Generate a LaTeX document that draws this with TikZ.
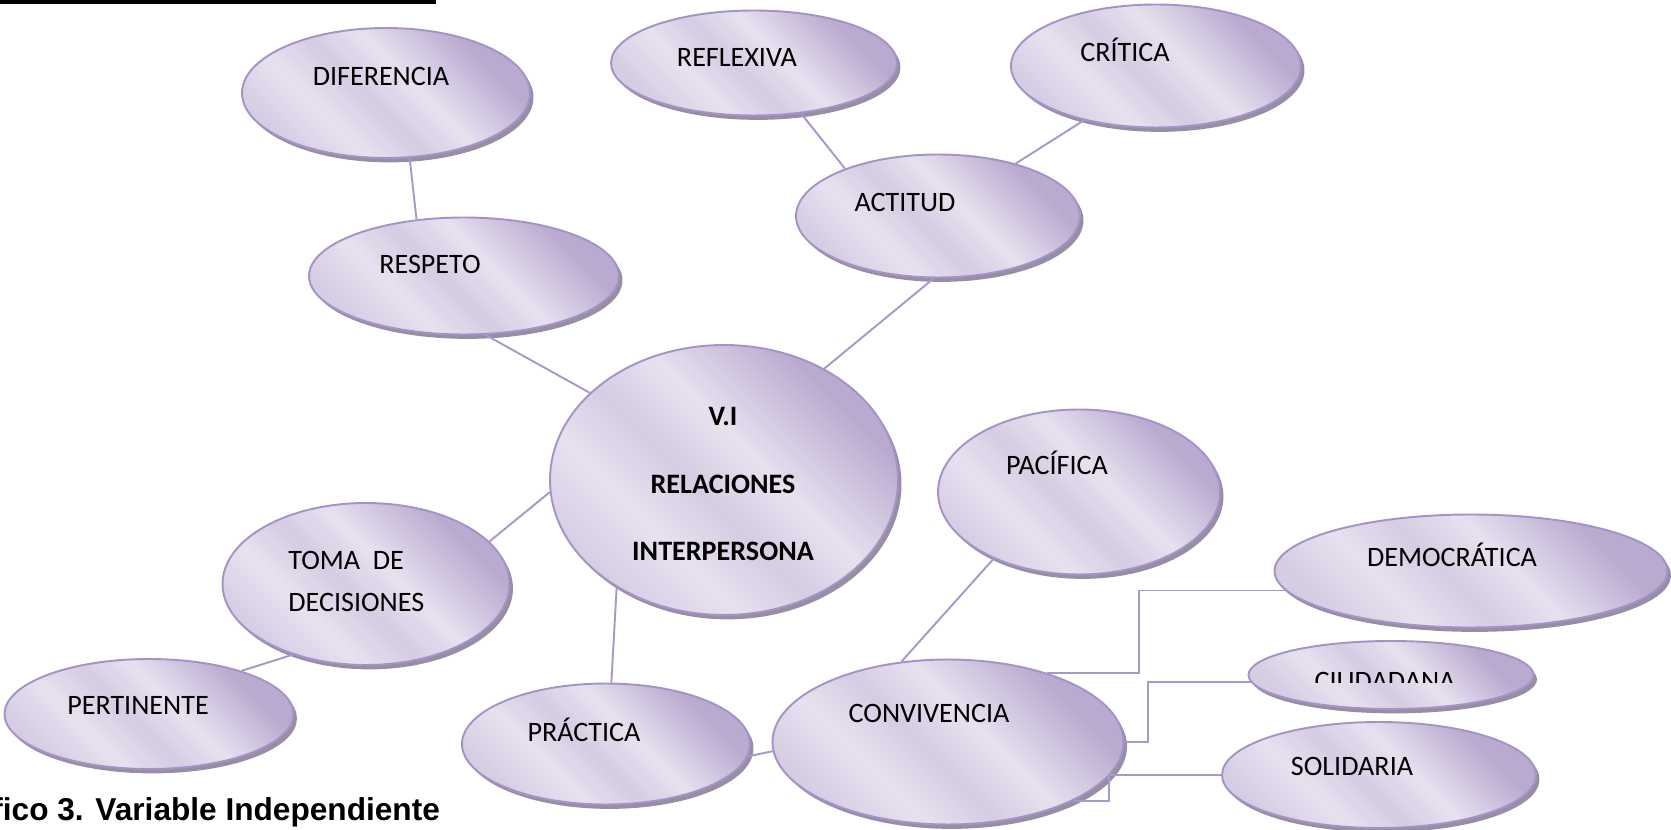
\documentclass[tikz,border=0pt]{standalone}
\usepackage{fontspec}
\setmainfont{Carlito}
\newfontfamily\captionfont{Liberation Sans}
\usetikzlibrary{shapes.geometric, shadows}

\definecolor{bubbleline}{HTML}{A493C7}
\definecolor{bubbledark}{HTML}{BAAAD0}
\definecolor{bubblelight}{HTML}{E7E1EF}
\definecolor{bubblemid}{HTML}{D6CCE3}
\definecolor{bubbleshadow}{HTML}{978EA3}
\definecolor{linkcolor}{HTML}{A898CA}

\pgfdeclarehorizontalshading{bubbleshade}{100bp}{color(0bp)=(bubbledark); color(28bp)=(bubbledark); color(44bp)=(bubblelight); color(54bp)=(bubblemid); color(64bp)=(bubblelight); color(76bp)=(bubblemid); color(100bp)=(bubblemid)}

\begin{document}
\begin{tikzpicture}[x=0.02cm, y=-0.02cm,
    bubble/.style={ellipse, draw=bubbleline, line width=1.1pt, shading=bubbleshade, shading angle=225,
        drop shadow={shadow xshift=2pt, shadow yshift=-2.5pt, fill=bubbleshadow, opacity=1}},
    lbl/.style={font=\fontsize{16pt}{19pt}\selectfont, inner sep=0pt, text height=10.5pt, text depth=0pt},
    lblb/.style={lbl, font=\fontsize{16pt}{19pt}\selectfont\bfseries},
    link/.style={draw=linkcolor, line width=1.1pt}]
    \useasboundingbox (0,0) rectangle (1671,830);

    % rule at the top
    \fill (0,0) rectangle (436,4);

    % upper branch
    \node[bubble, minimum width=5.76cm, minimum height=2.6cm] (dif) at (386,93) {};
    \node[lbl] (diftxt) at (381,76) {DIFERENCIA};
    \node[bubble, minimum width=6.2cm, minimum height=2.34cm] (resp) at (464,276) {};
    \node[lbl] (resptxt) at (430,264) {RESPETO};
    \node[bubble, minimum width=5.72cm, minimum height=2.1cm] (refl) at (754,63) {};
    \node[lbl] (refltxt) at (737,57) {REFLEXIVA};
    \node[bubble, minimum width=5.8cm, minimum height=2.46cm] (cri) at (1156,66) {};
    \node[lbl] (critxt) at (1125,52) {CRÍTICA};
    \node[bubble, minimum width=5.68cm, minimum height=2.46cm] (act) at (938,216) {};
    \node[lbl] (acttxt) at (905,202) {ACTITUD};

    % centre
    \node[bubble, minimum width=6.96cm, minimum height=5.4cm] (vi) at (724,480) {};
    \node[lblb] (vitxt) at (723,416) {V.I};
    \node[lblb] (reltxt) at (723,484) {RELACIONES};
    \node[lblb] (inttxt) at (723,551) {INTERPERSONA};

    % left branch
    \node[bubble, minimum width=5.74cm, minimum height=3.24cm] (toma) at (366,584) {};
    \node[lbl, anchor=west] (tomatxt) at (288,560) {TOMA\ \ DE};
    \node[lbl, anchor=west] (dectxt) at (288,602) {DECISIONES};
    \node[bubble, minimum width=5.78cm, minimum height=2.2cm] (pert) at (149,714) {};
    \node[lbl] (perttxt) at (138,705) {PERTINENTE};
    \node[bubble, minimum width=5.76cm, minimum height=2.42cm] (prac) at (606,744) {};
    \node[lbl] (practxt) at (584,732) {PRÁCTICA};

    % right branch
    \node[bubble, minimum width=5.64cm, minimum height=3.3cm] (pac) at (1079,492) {};
    \node[lbl] (pactxt) at (1057,465) {PACÍFICA};
    \node[bubble, minimum width=7.02cm, minimum height=3.3cm] (conv) at (948,742) {};
    \node[lbl] (convtxt) at (929,713) {CONVIVENCIA};
    \node[bubble, minimum width=7.86cm, minimum height=2.26cm] (dem) at (1471,571) {};
    \node[lbl] (demtxt) at (1452,557) {DEMOCRÁTICA};
    \node[bubble, minimum width=5.7cm, minimum height=1.36cm] (ciu) at (1391,675) {};
    \begin{scope}
        \clip (1250,640) rectangle (1530,683);
        \node[lbl] (ciutxt) at (1385,681) {CIUDADANA};
    \end{scope}
    \node[bubble, minimum width=6.28cm, minimum height=2.12cm] (sol) at (1379,775) {};
    \node[lbl] (soltxt) at (1352,766) {SOLIDARIA};

    % connectors
    \path[link] (dif.-70) -- (resp.130);
    \path[link] (refl.-47) -- (act.153);
    \path[link] (cri.-143) -- (act.34);
    \path[link] (act.-94) -- (vi.48);
    \path[link] (resp.-70) -- (vi.147);
    \path[link] (vi.-176) -- (toma.19);
    \path[link] (toma.-136) -- (pert.25);
    \path[link] (vi.-135) -- (prac.85);
    \path[link] (prac.-5) -- (conv.-177);
    \path[link] (pac.-142) -- (conv.120);
    \path[link] (conv.35) -- ++(92,0) |- (dem.186);
    \path[link] (conv.east) -- ++(24,0) |- (ciu.183);
    \path[link] (conv.-25) -- ++(35,0) |- (sol.west);

    % caption
    \node[font=\captionfont\fontsize{18pt}{21pt}\selectfont\bfseries, anchor=base west, inner sep=0pt] (cap) at (-8,821) {fico 3. Variable Independiente};
\end{tikzpicture}
\end{document}
